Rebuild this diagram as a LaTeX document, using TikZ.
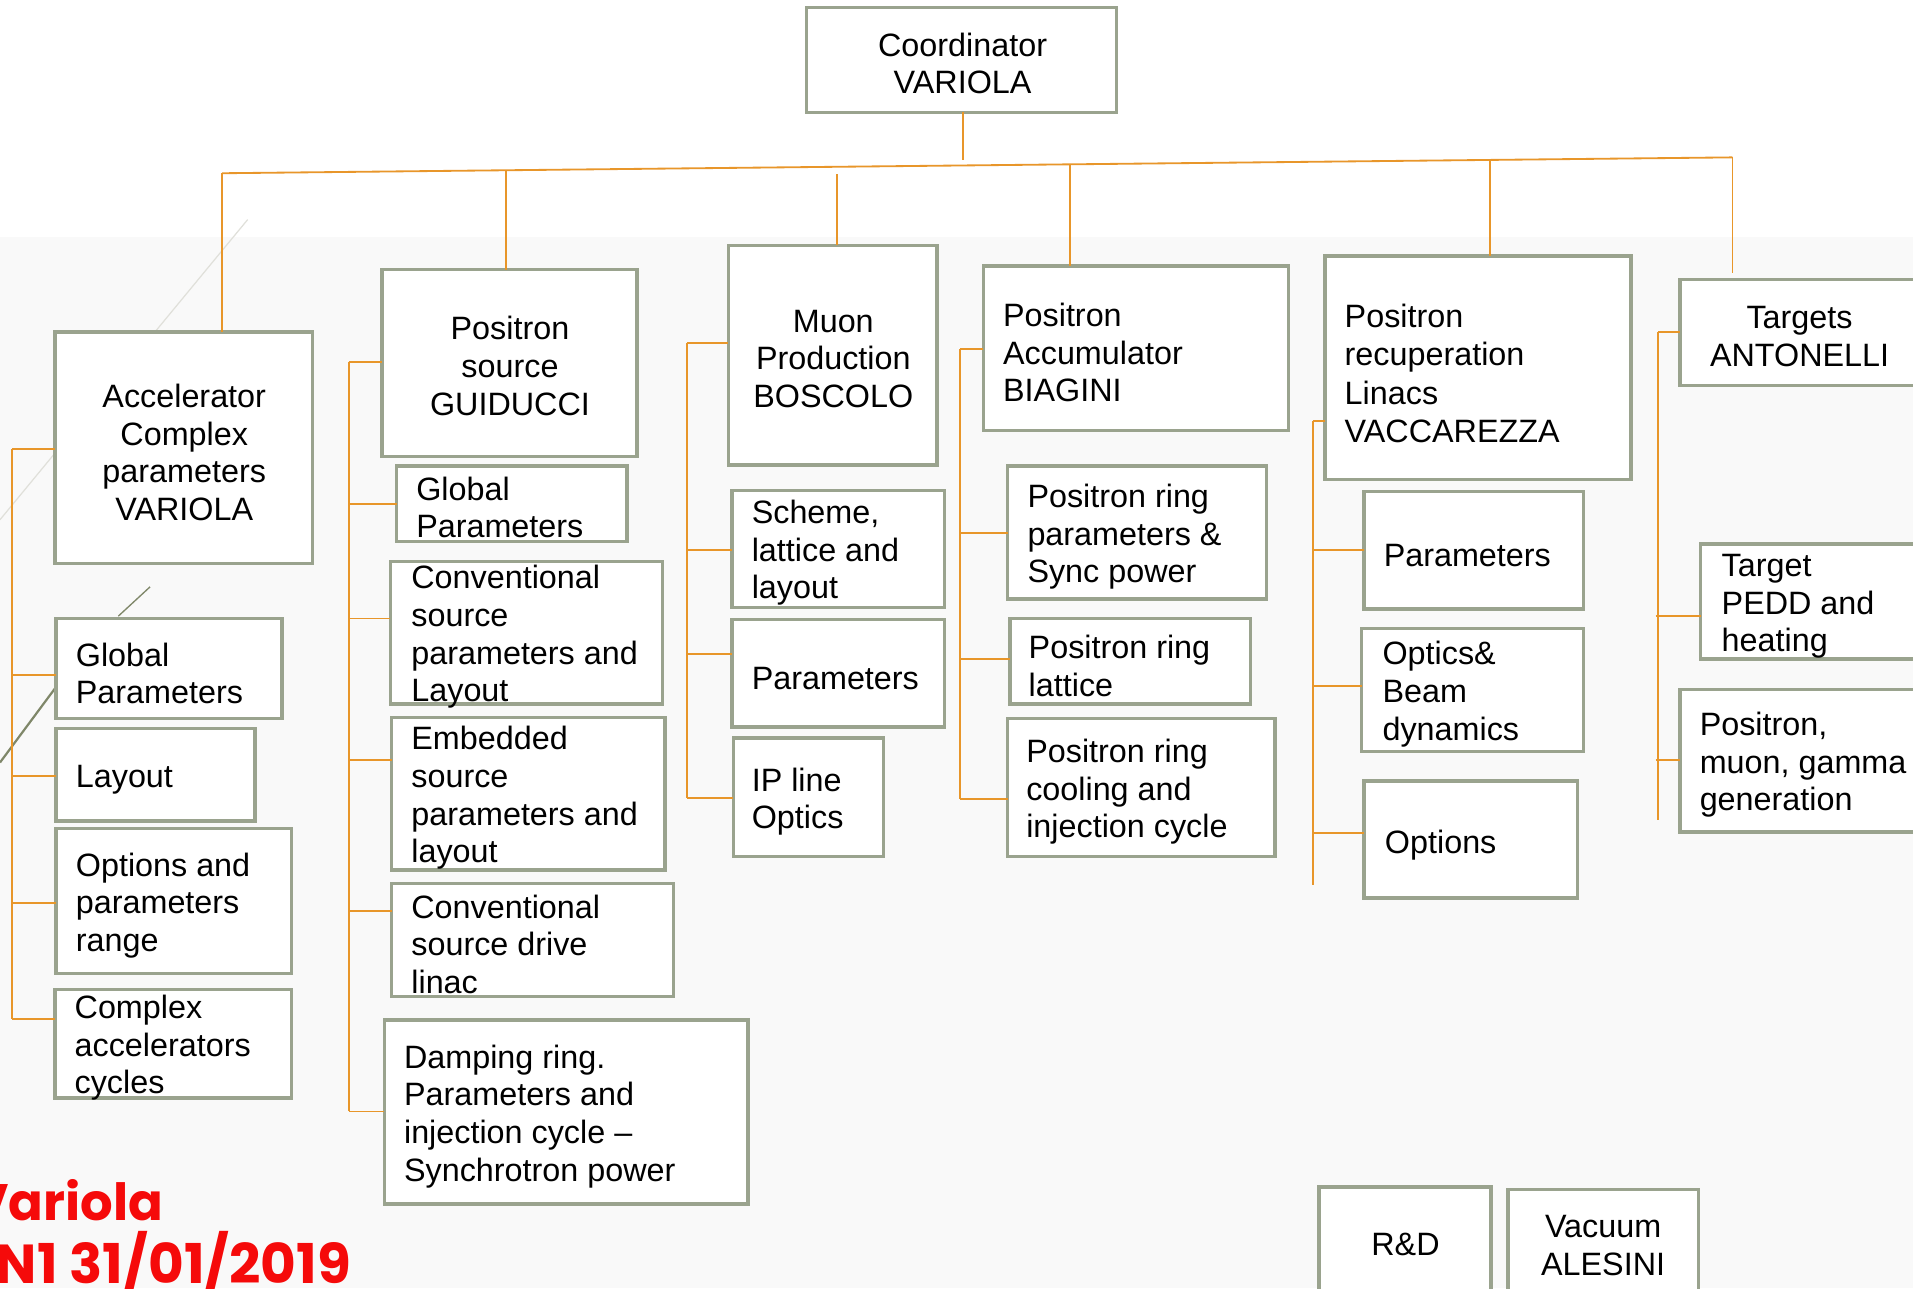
\documentclass[tikz,border=0pt]{standalone}
\usepackage{fontspec}
\setmainfont{Liberation Sans}
\newfontfamily\redfont{Poppins}
\definecolor{boxline}{HTML}{9AA38E}
\definecolor{orangeline}{HTML}{E8962A}
\definecolor{bgfill}{HTML}{F9F9F9}
\definecolor{decolight}{HTML}{E0E0DA}
\definecolor{decodark}{HTML}{7F8769}
\definecolor{redtext}{HTML}{F50A0A}
\newcommand\bx[5]{\node[boxst, minimum width={(#4-#2)*1pt}, minimum height={(#5-#3)*1pt}] (#1) at (#2,#3) {};}
\newcommand\tl[4]{\node[txt, align=left, anchor=west] (#1t) at (#2,#3) {#4};}
\newcommand\tc[4]{\node[txt, align=center] (#1t) at (#2,#3) {#4};}
\newcommand\tick[3]{\coordinate (tk) at (#1,#2); \draw[conn] (tk) -- (tk -| #3.west);}
\newcommand\trunk[4]{\coordinate (#1a) at (#2,#3); \coordinate (#1b) at (#2,#4); \draw[conn] (#1a) -- (#1b);}
\begin{document}
\begin{tikzpicture}[x=1pt,y=-1pt,
  boxst/.style={draw=boxline, line width=2.8pt, fill=white, rectangle, inner sep=0pt, outer sep=0pt, anchor=north west},
  txt/.style={font=\fontsize{26.5}{30.8}\selectfont, inner sep=0pt, text=black, yshift=-2pt},
  conn/.style={draw=orangeline, line width=1.5pt},
  redst/.style={text=redtext, inner sep=0pt, anchor=base east}]
\useasboundingbox (0,0) rectangle (1568,1056);
\fill[white] (0,0) rectangle (1568,1056);
\fill[bgfill] (0,194) rectangle (1568,1056);
% background decoration
\draw[decolight, line width=1pt] (203,180) -- (0,426);
\draw[decodark, line width=1.1pt] (123,481) -- (97,505);
\draw[decodark, line width=1.8pt] (46,563) -- (0,625);

% ---------- boxes ----------
\bx{coord}{661}{6}{915}{92}
\bx{accel}{45}{272}{256}{462}
\bx{gpa}{46}{507}{231}{589}
\bx{lay}{46}{597}{209}{673}
\bx{opt}{46}{679}{239}{798}
\bx{cplx}{45}{811}{239}{900}
\bx{psrc}{313}{221}{522}{374}
\bx{gpb}{325}{382}{514}{444}
\bx{conv}{320}{460}{543}{577}
\bx{emb}{321}{588}{545}{713}
\bx{drive}{321}{724}{552}{817}
\bx{damp}{315}{836}{613}{987}
\bx{muon}{597}{201}{768}{381}
\bx{scheme}{600}{402}{774}{498}
\bx{mpar}{600}{508}{774}{596}
\bx{ipl}{601}{605}{724}{702}
\bx{accum}{806}{218}{1056}{353}
\bx{pring}{826}{382}{1038}{491}
\bx{plat}{828}{507}{1025}{577}
\bx{pcool}{826}{589}{1045}{702}
\bx{recup}{1086}{210}{1337}{393}
\bx{rpar}{1118}{403}{1298}{499}
\bx{optics}{1116}{515}{1298}{616}
\bx{ropt}{1118}{640}{1293}{736}
\bx{targ}{1377}{229}{1590}{316}
\bx{pedd}{1394}{446}{1590}{540}
\bx{pmg}{1377}{565}{1590}{682}
\bx{rd}{1081}{973}{1222}{1080}
\bx{vac}{1236}{975}{1392}{1080}

% ---------- texts ----------
\tc{coord}{789}{50}{Coordinator\\VARIOLA}
\tc{accel}{151}{369}{Accelerator\\Complex\\parameters\\VARIOLA}
\tl{gpa}{62}{550}{Global\\Parameters}
\tl{lay}{62}{637}{Layout}
\tl{opt}{62}{740}{Options and\\parameters\\range}
\tl{cplx}{61}{857}{Complex\\accelerators\\cycles}
\tc{psrc}{418}{298}{Positron\\source\\GUIDUCCI}
\tl{gpb}{341}{414}{Global\\Parameters}
\tl{conv}{337}{520}{Conventional\\source\\parameters and\\Layout}
\tl{emb}{337}{652}{Embedded\\source\\parameters and\\layout}
\tl{drive}{337}{772}{Conventional\\source drive\\linac}
\tl{damp}{331}{913}{Damping ring.\\Parameters and\\injection cycle –\\Synchrotron power}
\tc{muon}{683}{292}{Muon\\Production\\BOSCOLO}
\tl{scheme}{616}{451}{Scheme,\\lattice and\\layout}
\tl{mpar}{616}{554}{Parameters}
\tl{ipl}{616}{655}{IP line\\Optics}
\tl{accum}{822}{287}{Positron\\Accumulator\\BIAGINI}
\tl{pring}{842}{438}{Positron ring\\parameters \&\\Sync power}
\tl{plat}{843}{544}{Positron ring\\lattice}
\tl{pcool}{841}{647}{Positron ring\\cooling and\\injection cycle}
\node[txt, align=left, anchor=west, font=\fontsize{26.5}{31.5}\selectfont] (recupt) at (1102,304) {Positron\\recuperation\\Linacs\\VACCAREZZA};
\tl{rpar}{1134}{453}{Parameters}
\tl{optics}{1133}{567}{Optics\&\\Beam\\dynamics}
\tl{ropt}{1135}{691}{Options}
\tc{targ}{1475}{274}{Targets\\ANTONELLI}
\tl{pedd}{1411}{495}{Target\\PEDD and\\heating}
\tl{pmg}{1393}{625}{Positron,\\muon, gamma\\generation}
\tc{rd}{1152}{1018}{R\&D}
\tc{vac}{1314}{1019}{Vacuum\\ALESINI}

\node[redst, font=\redfont\bfseries\fontsize{42}{48}\selectfont] (red1) at (134,1000) {Variola};
\node[redst, font=\redfont\bfseries\fontsize{45}{50}\selectfont] (red2) at (288,1052) {N1 31/01/2019};

% ---------- top bus ----------
\coordinate (busL) at (182,142);
\coordinate (busR) at (1420,129);
\draw[conn] (busL) -- (busR);
\coordinate (cd) at (789,131);
\draw[conn] (coord.south -| cd) -- (cd);
\draw[conn] (busL) -- (busL |- accel.north);
\coordinate (d2) at (415,139.6); \draw[conn] (d2) -- (d2 |- psrc.north);
\coordinate (d3) at (686,143); \draw[conn] (d3) -- (d3 |- muon.north);
\coordinate (d4) at (877,134.7); \draw[conn] (d4) -- (d4 |- accum.north);
\coordinate (d5) at (1221,131.1); \draw[conn] (d5) -- (d5 |- recup.north);
\coordinate (d6) at (1420,224); \draw[conn] (busR) -- (d6);

% ---------- column trees ----------
\trunk{ta}{10}{368}{835}
\tick{10}{368}{accel}
\tick{10}{553}{gpa}
\tick{10}{636}{lay}
\tick{10}{740}{opt}
\tick{10}{835}{cplx}

\trunk{tb}{286}{297}{911}
\tick{286}{297}{psrc}
\tick{286}{413}{gpb}
\tick{286}{507}{conv}
\tick{286}{623}{emb}
\tick{286}{747}{drive}
\tick{286}{911}{damp}

\trunk{tc}{563}{281}{654}
\tick{563}{281}{muon}
\tick{563}{451}{scheme}
\tick{563}{536}{mpar}
\tick{563}{654}{ipl}

\trunk{td}{787}{286}{655}
\tick{787}{286}{accum}
\tick{787}{437}{pring}
\tick{787}{540}{plat}
\tick{787}{655}{pcool}

\trunk{te}{1076}{345}{725}
\tick{1076}{345}{recup}
\tick{1076}{451}{rpar}
\tick{1076}{562}{optics}
\tick{1076}{683}{ropt}

\trunk{tf}{1359}{272}{672}
\tick{1359}{272}{targ}
\tick{1357}{505}{pedd}
\tick{1357}{623}{pmg}
\end{tikzpicture}
\end{document}
